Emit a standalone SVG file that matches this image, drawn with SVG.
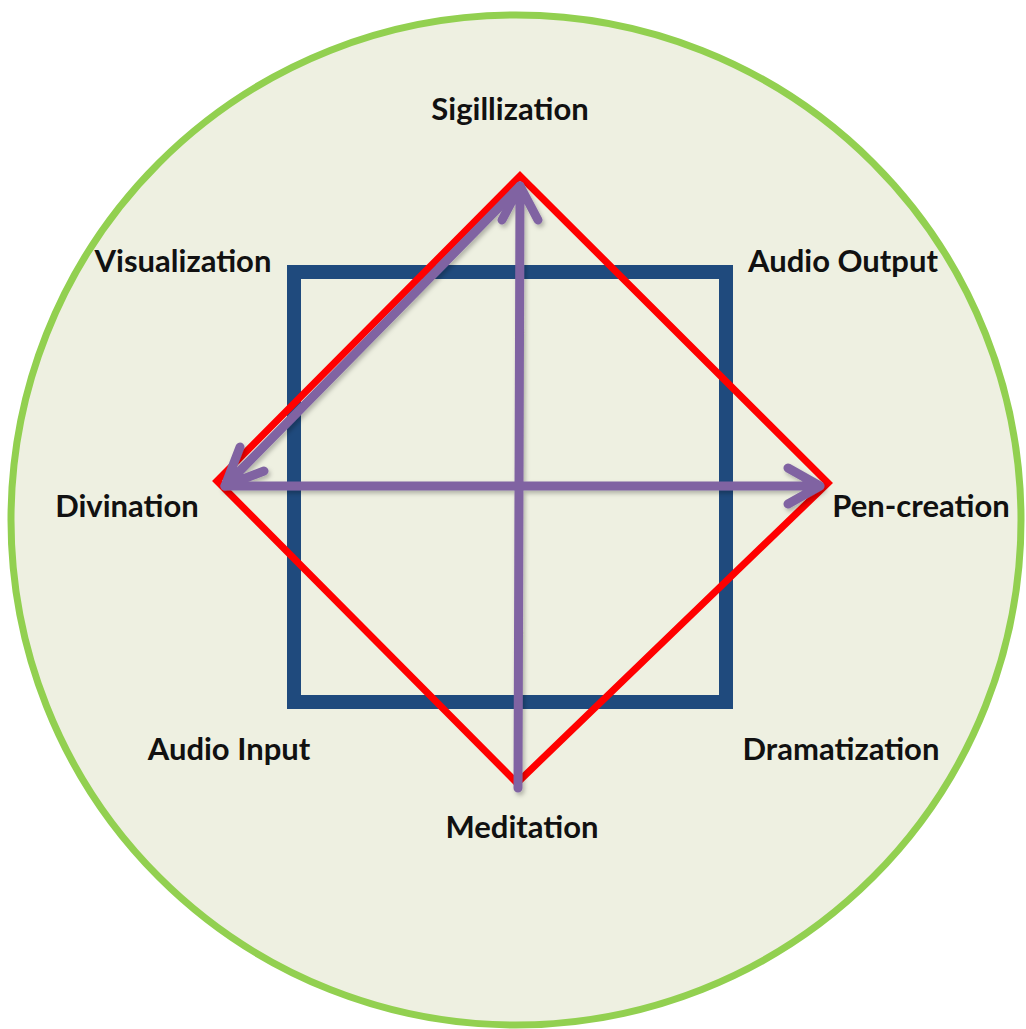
<svg xmlns="http://www.w3.org/2000/svg" width="1026" height="1029" viewBox="0 0 1026 1029">
<defs>
<style>
.lbl{font-family:Lato,"Open Sans","Liberation Sans",sans-serif;font-weight:bold;font-size:31px;fill:#111;text-anchor:middle}
.arr{fill:none;stroke:#8064A2;stroke-width:9;stroke-linecap:round;stroke-linejoin:round}
</style>
<filter id="sh" x="-10%" y="-10%" width="120%" height="120%">
<feDropShadow dx="2" dy="3" stdDeviation="2" flood-color="#000" flood-opacity="0.25"/>
</filter>
</defs>
<rect width="1026" height="1029" fill="#fff"/>
<g id="circle"><circle cx="516" cy="520" r="505" fill="#EEF0E1" stroke="#92D050" stroke-width="7"/></g>
<g id="square"><rect x="294" y="272" width="432" height="430" fill="none" stroke="#1F4A7D" stroke-width="14"/></g>
<g id="diamond"><polygon points="520,176 828,483 517,783 217,481" fill="none" stroke="#FF0000" stroke-width="7" stroke-linejoin="miter"/></g>
<g id="connectors" filter="url(#sh)">
<path class="arr" d="M518,788 L520,186 M502,220 L520,186 L538,220"/>
<path class="arr" d="M520,186 L225,486 M240,447 L225,486 L264,471"/>
<path class="arr" d="M225,486 L820,486 M788,468 L820,486 L788,504"/>
</g>
<g id="n-sigillization"><text class="lbl" x="510" y="120">Sigillization</text></g>
<g id="n-visualization"><text class="lbl" x="183" y="272">Visualization</text></g>
<g id="n-audio-output"><text class="lbl" x="843" y="272">Audio Output</text></g>
<g id="n-divination"><text class="lbl" x="127" y="517">Divination</text></g>
<g id="n-pen-creation"><text class="lbl" x="921" y="517">Pen-creation</text></g>
<g id="n-audio-input"><text class="lbl" x="229" y="760">Audio Input</text></g>
<g id="n-dramatization"><text class="lbl" x="841" y="760">Dramatization</text></g>
<g id="n-meditation"><text class="lbl" x="522" y="838">Meditation</text></g>
</svg>
